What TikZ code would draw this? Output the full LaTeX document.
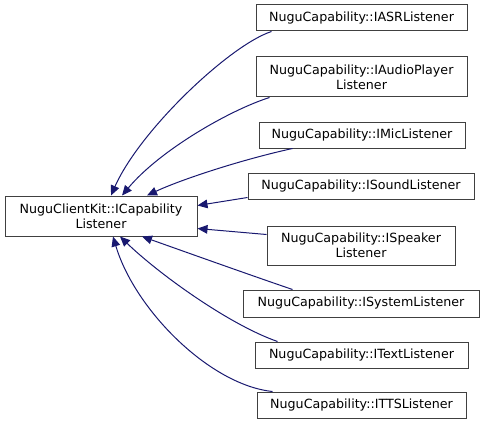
\documentclass[tikz,border=0pt]{standalone}
\usepackage{fontspec}
\setmainfont{DejaVu Sans}
\usetikzlibrary{calc,arrows.meta}

\tikzset{
  cls/.style={draw=black!75, line width=0.75pt, inner sep=0pt, align=center,
    font=\fontsize{9.5}{11.25}\selectfont, minimum height=19.5pt},
  edge/.style={draw={rgb,255:red,25;green,25;blue,112}, line width=0.75pt,
    -{Triangle[length=7.5pt,width=6.5pt]}}
}

\begin{document}
\begin{tikzpicture}[x=0.75pt,y=-0.75pt]
\useasboundingbox (0,0) rectangle (484,424);

\node[cls, minimum width=144pt, minimum height=30pt] (cap) at (101,216) {NuguClientKit::ICapability\\Listener};

\node[cls, minimum width=158.25pt] (asr) at (361.5,18) {NuguCapability::IASRListener};
\node[cls, minimum width=158.25pt, minimum height=30pt] (audio) at (361.5,77) {NuguCapability::IAudioPlayer\\Listener};
\node[cls, minimum width=154.5pt] (mic) at (362,135) {NuguCapability::IMicListener};
\node[cls, minimum width=169.5pt] (sound) at (361,186) {NuguCapability::ISoundListener};
\node[cls, minimum width=141pt, minimum height=29.25pt] (speaker) at (361,245.5) {NuguCapability::ISpeaker\\Listener};
\node[cls, minimum width=177pt, minimum height=20.25pt] (system) at (361,303.5) {NuguCapability::ISystemListener};
\node[cls, minimum width=159.75pt] (text) at (361.5,355) {NuguCapability::ITextListener};
\node[cls, minimum width=156.75pt] (tts) at (361.5,405) {NuguCapability::ITTSListener};

% inheritance edges
\draw[edge] ($(asr.south west)+(16,0)$) .. controls (230,45) and (140,130) .. ($(cap.north)+(10,0)$);
\draw[edge] ($(audio.south west)+(14,0)$) .. controls (230,110) and (160,150) .. ($(cap.north)+(21,0)$);
\draw[edge] ($(mic.south west)+(34,0)$) .. controls (240,160) and (180,180) .. ($(cap.north)+(46,0)$);
\draw[edge] ($(sound.south west)+(0,-2)$) -- ($(cap.north east)+(0,10)$);
\draw[edge] ($(speaker.west)+(0,-11)$) -- ($(cap.south east)+(0,-8)$);
\draw[edge] ($(system.north west)+(50,0)$) .. controls (250,275) and (180,250) .. ($(cap.south)+(41,0)$);
\draw[edge] ($(text.north west)+(23,0)$) .. controls (230,325) and (160,275) .. ($(cap.south)+(19,0)$);
\draw[edge] ($(tts.north west)+(16,0)$) .. controls (210,385) and (135,310) .. ($(cap.south)+(12,0)$);
\end{tikzpicture}
\end{document}
